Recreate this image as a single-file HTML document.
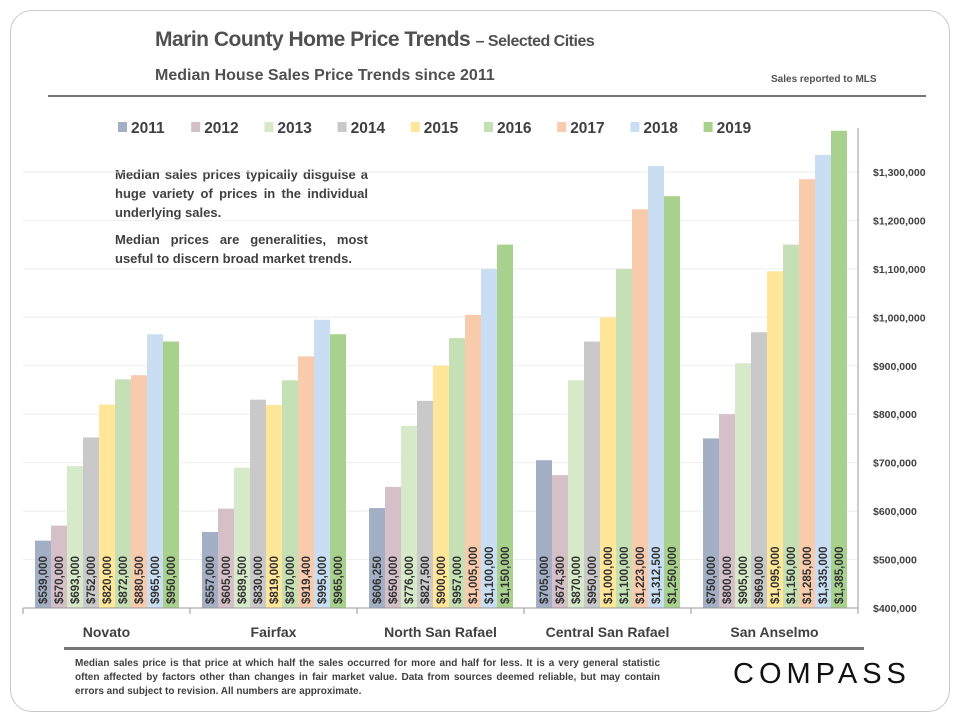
<!DOCTYPE html>
<html><head><meta charset="utf-8">
<style>
body{margin:0;width:960px;height:720px;background:#fff;font-family:"Liberation Sans",sans-serif;overflow:hidden;position:relative}
.card{position:absolute;left:10px;top:10px;width:938px;height:700px;border:1px solid #c8c8c8;border-radius:22px}
.t{position:absolute;color:#505050;font-weight:bold;white-space:nowrap}
</style></head><body>
<div class="card"></div>
<div class="t" style="left:155px;top:28px;font-size:21px;letter-spacing:-0.5px">Marin County Home Price Trends <span style="font-size:16px">– Selected Cities</span></div>
<div class="t" style="left:155px;top:67px;font-size:16px">Median House Sales Price Trends since 2011</div>
<div class="t" style="left:771px;top:74px;font-size:10px">Sales reported to MLS</div>
<div style="position:absolute;left:48px;top:95px;width:878px;height:2px;background:#777"></div>
<div class="t" style="left:115px;top:165px;width:253px;white-space:normal;font-size:13px;line-height:19px;text-align:justify;color:#404040">Median sales prices typically disguise a huge variety of prices in the individual underlying sales.<div style="height:8px"></div>Median prices are generalities, most useful to discern broad market trends.</div>
<svg id="chart" width="960" height="720" style="position:absolute;left:0;top:0"></svg>
<div style="position:absolute;left:64px;top:647px;width:800px;height:3px;background:#777"></div>
<div class="t" style="left:75px;top:657px;width:585px;white-space:normal;font-size:10px;line-height:14px;text-align:justify;color:#404040">Median sales price is that price at which half the sales occurred for more and half for less. It is a very general statistic often affected by factors other than changes in fair market value. Data from sources deemed reliable, but may contain errors and subject to revision. All numbers are approximate.</div>
<div style="position:absolute;left:733px;top:658px;font-size:29px;letter-spacing:5px;color:#111;font-family:'Liberation Sans',sans-serif">COMPASS</div>
<script>
const cities=["Novato","Fairfax","North San Rafael","Central San Rafael","San Anselmo"];
const years=["2011","2012","2013","2014","2015","2016","2017","2018","2019"];
const v2011=[539000,557000,606250,705000,750000];
const v2012=[570000,605000,650000,674300,800000];
const v2013=[693000,689500,776000,870000,905000];
const v2014=[752000,830000,827500,950000,969000];
const v2015=[820000,819000,900000,1000000,1095000];
const v2016=[872000,870000,957000,1100000,1150000];
const v2017=[880500,919400,1005000,1223000,1285000];
const v2018=[965000,995000,1100000,1312500,1335000];
const v2019=[950000,965000,1150000,1250000,1385000];
const series=[v2011,v2012,v2013,v2014,v2015,v2016,v2017,v2018,v2019];
const ticks=[400000,500000,600000,700000,800000,900000,1000000,1100000,1200000,1300000];
const colors=["#a3afc4","#d4c0c6","#d6e9c9","#c9c9c9","#ffe699","#c5e0b4","#f8cbad","#c9def2","#a9d18e"];
const svg=document.getElementById('chart');const NS="http://www.w3.org/2000/svg";
const x0=23,x1=858,yb=608,ymin=400000,pxPer=48.45/100000;
const gw=(x1-x0)/cities.length,bw=16;
function y(v){return yb-(v-ymin)*pxPer;}
function mk(t,a){const e=document.createElementNS(NS,t);for(const k in a)e.setAttribute(k,a[k]);svg.appendChild(e);return e;}
ticks.forEach((t,i)=>{
 const g=mk('line',{x1:x0,x2:x1,y1:y(t),y2:y(t),stroke:'#eee'});
 
 
 const l=mk('text',{x:873,y:y(t)+4,'font-size':'10.5','font-weight':'bold',fill:'#404040'});
 l.textContent='$'+t.toLocaleString('en-US');
 
 
});
cities.forEach((c,ci)=>{
 const gx=x0+ci*gw+12;
 series.forEach((s,si)=>{
  const bx=gx+si*bw;
  const r=mk('rect',{x:bx,y:y(s[ci]),width:bw,height:yb-y(s[ci]),fill:colors[si]});
  
  
  const tx=bx+bw/2+4,ty=yb-4;
  const t=mk('text',{x:tx,y:ty,transform:`rotate(-90 ${tx} ${ty})`,'font-size':'11.5','font-weight':'bold',fill:'#333'});
  t.textContent='$'+s[ci].toLocaleString('en-US');
  
  
 });
 const cl=mk('text',{x:x0+ci*gw+gw/2,y:637,'text-anchor':'middle','font-size':'14','font-weight':'bold',fill:'#404040'});
 cl.textContent=c;
 
 
 const tk=mk('line',{x1:x0+ci*gw,x2:x0+ci*gw,y1:yb,y2:yb+6,stroke:'#999'});
 
 
});
const tkl=mk('line',{x1:x1,x2:x1,y1:yb,y2:yb+6,stroke:'#999'});


const xa=mk('line',{x1:x0,x2:x1,y1:yb,y2:yb,stroke:'#999'});


const ya=mk('line',{x1:x1,x2:x1,y1:128,y2:yb,stroke:'#999'});


years.forEach((yr,i)=>{
 const lx=118+i*73.2;
 const sw=mk('rect',{x:lx,y:122,width:9,height:10,fill:colors[i]});
 
 
 const lt=mk('text',{x:lx+13,y:133,'font-size':'15.5','font-weight':'bold',fill:'#404040'});
 lt.textContent=yr;
 
 
});
</script>
</body></html>
